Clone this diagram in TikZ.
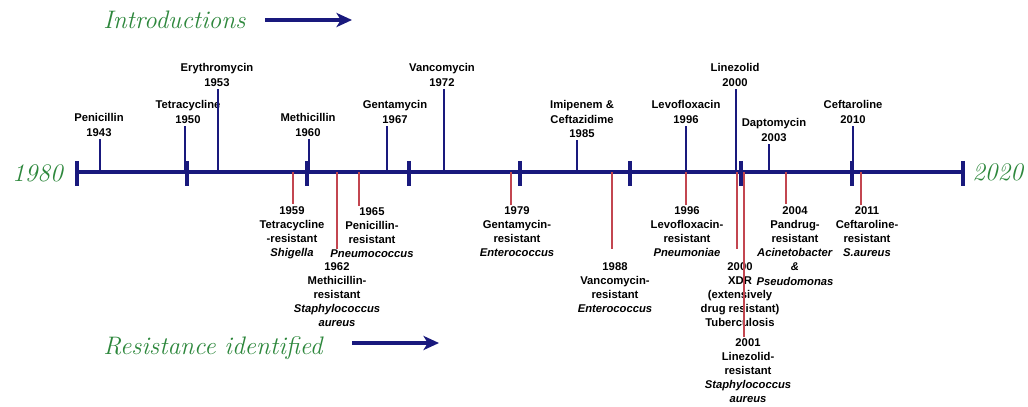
\documentclass[tikz,border=0pt]{standalone}
\usepackage{fontspec}
\newfontfamily\labelfont{Liberation Sans}
\usetikzlibrary{arrows.meta}
\definecolor{lineblue}{RGB}{25,25,125}
\definecolor{stemred}{RGB}{195,70,80}
\definecolor{titlegreen}{RGB}{45,135,60}

\begin{document}
\begin{tikzpicture}[x=0.025cm, y=-0.025cm,
	axis/.style={draw=lineblue, line width=2.8pt},
	tick/.style={draw=lineblue, line width=3pt},
	introstem/.style={draw=lineblue, line width=2pt},
	resstem/.style={draw=stemred, line width=2pt},
	drug/.style={align=center, inner sep=1.5pt, font=\labelfont\bfseries\fontsize{8}{10}\selectfont},
	yearlabel/.style={text=titlegreen, inner sep=0pt, font=\itshape\fontsize{18}{21}\selectfont},
	titlearrow/.style={draw=lineblue, line width=2.2pt, -{Stealth[length=11pt, width=10pt, inset=3pt]}}]
	\useasboundingbox (0,0) rectangle (1028,407);

	% headings
	\node[yearlabel, anchor=west] (intro) at (103,20) {Introductions};
	\coordinate (introtip) at (352,20);
	\draw[titlearrow, shorten <=14pt] (intro.east) -- (introtip);
	\node[yearlabel, anchor=west] (resist) at (103,348) {Resistance identified};
	\coordinate (resisttip) at (439,343);
	\draw[titlearrow, shorten <=21pt] (resist.east |- resisttip) -- (resisttip);

	% time axis
	\coordinate (start) at (77,172);
	\coordinate (end) at (963,172);
	\draw[axis] (start) -- (end);
	\node[yearlabel, anchor=east] (y1980) at (63,173) {1980};
	\node[yearlabel, anchor=west] (y2020) at (972,172) {2020};
	\draw[tick] (77,161) -- (77,186);
	\draw[tick] (187,161) -- (187,186);
	\draw[tick] (307,161) -- (307,186);
	\draw[tick] (409,161) -- (409,186);
	\draw[tick] (520,161) -- (520,186);
	\draw[tick] (630,161) -- (630,186);
	\draw[tick] (741,161) -- (741,186);
	\draw[tick] (852,161) -- (852,186);
	\draw[tick] (963,161) -- (963,186);

	% introductions
	\node[drug] (pen) at (99,125) {Penicillin\\1943};
	\node[drug] (tet) at (188,112) {Tetracycline\\1950};
	\node[drug] (ery) at (217,75) {Erythromycin\\1953};
	\node[drug] (met) at (308,125) {Methicillin\\1960};
	\node[drug] (gen) at (395,112) {Gentamycin\\1967};
	\node[drug] (van) at (442,75) {Vancomycin\\1972};
	\node[drug] (imi) at (582,119) {Imipenem \&\\Ceftazidime\\1985};
	\node[drug] (lev) at (686,112) {Levofloxacin\\1996};
	\node[drug] (lin) at (735,75) {Linezolid\\2000};
	\node[drug] (dap) at (774,130) {Daptomycin\\2003};
	\node[drug] (cef) at (853,112) {Ceftaroline\\2010};

	\coordinate (a1943) at (100,172);
	\coordinate (a1950) at (185,172);
	\coordinate (a1953) at (218,172);
	\coordinate (a1960) at (309,172);
	\coordinate (a1967) at (387,172);
	\coordinate (a1972) at (444,172);
	\coordinate (a1985) at (577,172);
	\coordinate (a1996) at (686,172);
	\coordinate (a2000) at (736,172);
	\coordinate (a2003) at (769,172);
	\coordinate (a2010) at (853,172);

	\draw[introstem] (a1943) -- (a1943 |- pen.south);
	\draw[introstem] (a1950) -- (a1950 |- tet.south);
	\draw[introstem] (a1953) -- (a1953 |- ery.south);
	\draw[introstem] (a1960) -- (a1960 |- met.south);
	\draw[introstem] (a1967) -- (a1967 |- gen.south);
	\draw[introstem] (a1972) -- (a1972 |- van.south);
	\draw[introstem] (a1985) -- (a1985 |- imi.south);
	\draw[introstem] (a1996) -- (a1996 |- lev.south);
	\draw[introstem] (a2000) -- (a2000 |- lin.south);
	\draw[introstem] (a2003) -- (a2003 |- dap.south);
	\draw[introstem] (a2010) -- (a2010 |- cef.south);

	% resistance
	\node[drug] (r1959) at (292,233) {1959\\Tetracycline\\-resistant\\\textit{Shigella}};
	\node[drug] (r1962) at (337,295) {1962\\Methicillin-\\resistant\\\textit{Staphylococcus}\\\textit{aureus}};
	\node[drug] (r1965) at (372,233) {1965\\Penicillin-\\resistant\\\textit{Pneumococcus}};
	\node[drug] (r1979) at (517,232) {1979\\Gentamycin-\\resistant\\\textit{Enterococcus}};
	\node[drug] (r1988) at (615,288) {1988\\Vancomycin-\\resistant\\\textit{Enterococcus}};
	\node[drug] (r1996) at (687,232) {1996\\Levofloxacin-\\resistant\\\textit{Pneumoniae}};
	\node[drug] (r2000) at (740,295) {2000\\XDR\\(extensively\\drug resistant)\\Tuberculosis};
	\node[drug] (r2001) at (748,371) {2001\\Linezolid-\\resistant\\\textit{Staphylococcus}\\\textit{aureus}};
	\node[drug] (r2004) at (795,246) {2004\\Pandrug-\\resistant\\\textit{Acinetobacter}\\\textit{\&}\\\textit{Pseudomonas}};
	\node[drug] (r2011) at (867,232) {2011\\Ceftaroline-\\resistant\\\textit{S.aureus}};

	\coordinate (b1959) at (293,172);
	\coordinate (b1962) at (337,172);
	\coordinate (b1965) at (359,172);
	\coordinate (b1979) at (511,172);
	\coordinate (b1988) at (612,172);
	\coordinate (b1996) at (686,172);
	\coordinate (b2000) at (737,172);
	\coordinate (b2001) at (744,172);
	\coordinate (b2004) at (786,172);
	\coordinate (b2011) at (861,172);

	\draw[resstem] (b1959) -- (b1959 |- r1959.north);
	\draw[resstem] (b1962) -- ([yshift=8pt]b1962 |- r1962.north);
	\draw[resstem] (b1965) -- (b1965 |- r1965.north);
	\draw[resstem] (b1979) -- (b1979 |- r1979.north);
	\draw[resstem] (b1988) -- ([yshift=8pt]b1988 |- r1988.north);
	\draw[resstem] (b1996) -- (b1996 |- r1996.north);
	\draw[resstem] (b2000) -- ([yshift=8pt]b2000 |- r2000.north);
	\draw[resstem] (b2001) -- (b2001 |- r2001.north);
	\draw[resstem] (b2004) -- (b2004 |- r2004.north);
	\draw[resstem] (b2011) -- (b2011 |- r2011.north);
\end{tikzpicture}
\end{document}
